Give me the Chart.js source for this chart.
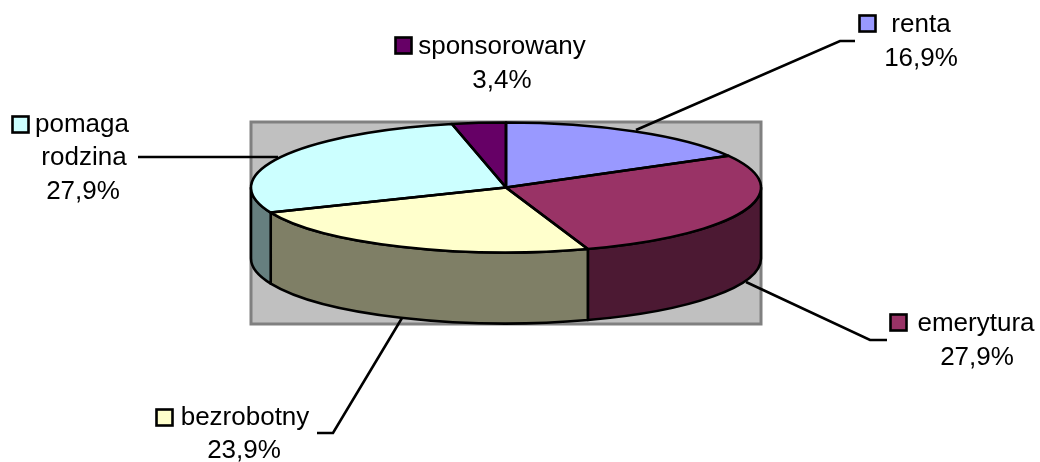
<!DOCTYPE html>
<html><head><meta charset="utf-8">
<style>html,body{margin:0;padding:0;background:#fff}canvas{display:block}</style>
<script src="https://cdn.jsdelivr.net/npm/chart.js@4"></script>
</head><body><canvas id="c" width="1040" height="462"></canvas>
<script>
const categories = ["renta","emerytura","bezrobotny","pomaga rodzina","sponsorowany"];
const values = [16.9,27.9,23.9,27.9,3.4];
const colors = ["#9999FF","#993366","#FFFFCC","#CCFFFF","#660066"];
const sideColors = ["#4C4C7F","#4C1933","#7F7F66","#667F7F","#330033"];

const GEO = {cx:506, cy:187.5, rx:255, ry:65, depth:71, box:[251,122,510,202]};
const FONT = '26px "Liberation Sans", Arial, sans-serif';
const LW = 2.6;
const LABELS = [
  {key:[859.5,15.5], lines:[["renta",921,25],[null,921,59]], leader:[[636,130],[840,41],[855,41]]},
  {key:[890.5,314.5], lines:[["emerytura",976,324],[null,977,358]], leader:[[746,282],[870,340],[887,340]]},
  {key:[156.5,409.5], lines:[["bezrobotny",245,418],[null,244,451]], leader:[[402,318],[333,433],[317,433]]},
  {key:[12.5,116.5], lines:[["pomaga",82,125],["rodzina",84,158],[null,83,192]], leader:[[278,157],[138,157]]},
  {key:[395.5,37.5], lines:[["sponsorowany",502,47],[null,502,81]], leader:null}
];
const pct = v => v.toFixed(1).replace('.',',') + '%';

const pie3d = {
  id:'pie3d',
  beforeDatasetsDraw(chart){
    const ctx = chart.ctx, arcs = chart.getDatasetMeta(0).data, g = GEO;
    ctx.save();
    ctx.fillStyle='#C0C0C0'; ctx.strokeStyle='#808080'; ctx.lineWidth=3;
    ctx.fillRect(...g.box); ctx.strokeRect(...g.box);
    ctx.strokeStyle='#000'; ctx.lineWidth=LW;
    LABELS.forEach(l=>{
      if(!l.leader) return;
      ctx.beginPath();
      l.leader.forEach((p,i)=> i?ctx.lineTo(p[0],p[1]):ctx.moveTo(p[0],p[1]));
      ctx.stroke();
    });
    ctx.lineJoin='round';
    arcs.forEach((a,i)=>{
      const lo=Math.max(a.startAngle,0), hi=Math.min(a.endAngle,Math.PI);
      if(lo>=hi) return;
      ctx.beginPath();
      ctx.ellipse(g.cx,g.cy,g.rx,g.ry,0,lo,hi,false);
      ctx.ellipse(g.cx,g.cy+g.depth,g.rx,g.ry,0,hi,lo,true);
      ctx.closePath();
      ctx.fillStyle=sideColors[i]; ctx.fill(); ctx.stroke();
    });
    ctx.restore();
    const a0=arcs[0];
    ctx.save();
    ctx.translate(g.cx,g.cy);
    ctx.scale(g.rx/a0.outerRadius,g.ry/a0.outerRadius);
    ctx.translate(-a0.x,-a0.y);
  },
  afterDatasetsDraw(chart){
    const ctx = chart.ctx, arcs = chart.getDatasetMeta(0).data, g = GEO;
    ctx.restore();
    ctx.save();
    ctx.strokeStyle='#000'; ctx.lineWidth=LW; ctx.lineJoin='round';
    arcs.forEach(a=>{
      ctx.beginPath();
      ctx.moveTo(g.cx,g.cy);
      ctx.ellipse(g.cx,g.cy,g.rx,g.ry,0,a.startAngle,a.endAngle,false);
      ctx.closePath();
      ctx.stroke();
    });
    ctx.restore();
  },
  afterDraw(chart){
    const ctx = chart.ctx;
    ctx.save();
    ctx.font=FONT; ctx.fillStyle='#000'; ctx.textAlign='center'; ctx.textBaseline='middle';
    LABELS.forEach((l,i)=>{
      ctx.fillStyle=colors[i]; ctx.strokeStyle='#000'; ctx.lineWidth=LW;
      ctx.fillRect(l.key[0],l.key[1],16,16); ctx.strokeRect(l.key[0],l.key[1],16,16);
      ctx.fillStyle='#000';
      l.lines.forEach(t=>ctx.fillText(t[0]===null?pct(values[i]):t[0],t[1],t[2]));
    });
    ctx.restore();
  }
};

new Chart(document.getElementById('c'),{
  type:'pie',
  data:{labels:categories,datasets:[{data:values,backgroundColor:colors,borderWidth:0}]},
  options:{responsive:false,animation:false,
    plugins:{legend:{display:false},tooltip:{enabled:false}},
    layout:{padding:0}},
  plugins:[pie3d]
});
</script></body></html>
